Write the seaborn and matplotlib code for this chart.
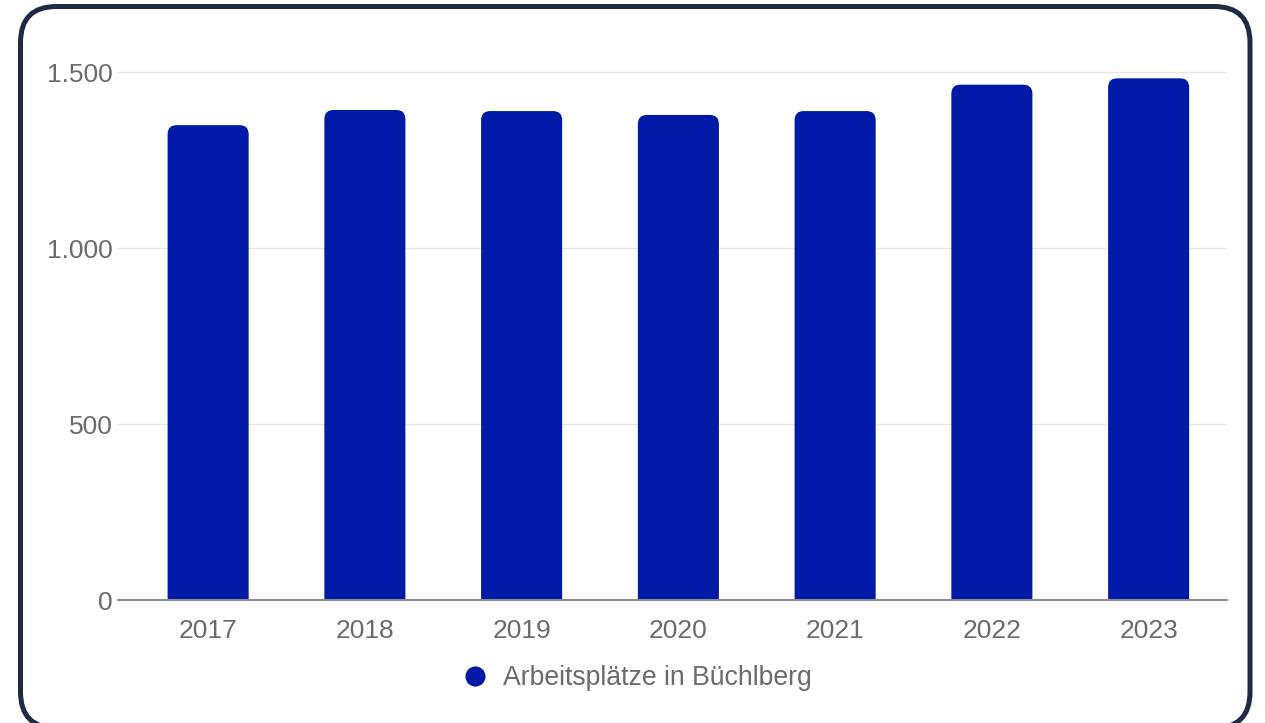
import matplotlib
matplotlib.use("Agg")
import matplotlib.pyplot as plt
from matplotlib.patches import FancyBboxPatch
from matplotlib.lines import Line2D
from matplotlib.ticker import FuncFormatter
import seaborn as sns
import pandas as pd

years = ["2017", "2018", "2019", "2020", "2021", "2022", "2023"]
values = [1349, 1392, 1389, 1378, 1389, 1464, 1482]
series_name = "Arbeitsplätze in Büchlberg"
y_ticks = [0, 500, 1000, 1500]

BAR = "#001AA8"
TXT = "#6b6b6b"

sns.set_theme(style="white")
plt.rcParams["font.family"] = ["Liberation Sans", "DejaVu Sans"]

W, H = 1265, 723
fig = plt.figure(figsize=(W / 100, H / 100), dpi=100)
ax = fig.add_axes([118 / W, 1 - 600 / H, (1227 - 118) / W, (600 - 50) / H])

df = pd.DataFrame({"Jahr": years, "Wert": values})
sns.barplot(data=df, x="Jahr", y="Wert", color=BAR, width=0.517, ax=ax,
            saturation=1, zorder=2)

# rounded tops: replace rectangles with rounded boxes
px_x = 156.7  # px per category
ylim_top = (600 - 50) / 0.352
ax.set_xlim(-0.575, 6.5)
ax.set_ylim(0, ylim_top)
ax_h_px = 550
px_y = ax_h_px / ylim_top
r_px = 9
for p in list(ax.patches):
    x0, w, h = p.get_x(), p.get_width(), p.get_height()
    p.remove()
    rs = r_px / px_x
    fb = FancyBboxPatch((x0, -r_px / px_y), w, h + r_px / px_y,
                        boxstyle=f"round,pad=0,rounding_size={rs}",
                        mutation_aspect=px_x / px_y,
                        facecolor=BAR, edgecolor="none", zorder=2)
    ax.add_patch(fb)

ax.set_yticks(y_ticks)
ax.yaxis.set_major_formatter(FuncFormatter(lambda v, _: f"{v:,.0f}".replace(",", ".")))
ax.grid(axis="y", color="#e6e6e6", linewidth=1, zorder=0)
ax.grid(axis="x", visible=False)
ax.axhline(0, color="#8c8c8c", linewidth=1.5, zorder=3, clip_on=False)
for s in ax.spines.values():
    s.set_visible(False)
ax.tick_params(axis="y", length=0, pad=4, labelsize=19, labelcolor=TXT)
ax.tick_params(axis="x", length=0, pad=14, labelsize=19, labelcolor=TXT)
ax.set_xlabel("")
ax.set_ylabel("")
ax.set_facecolor("none")

handle = Line2D([], [], linestyle="none", marker="o", markersize=13.5,
                markerfacecolor=BAR, markeredgecolor=BAR)
fig.legend([handle], [series_name], loc="center", bbox_to_anchor=(0.5025, 1 - 678 / H),
           frameon=False, fontsize=19.2, labelcolor=TXT, handletextpad=0.45,
           borderaxespad=0, handlelength=1.2)

# outer rounded frame
fx0, fx1, fy0, fy1 = 20.5 / W, 1250 / W, 1 - 728 / H, 1 - 6.5 / H
rad = 36 / W
frame = FancyBboxPatch((fx0, fy0), fx1 - fx0, fy1 - fy0,
                       boxstyle=f"round,pad=0,rounding_size={rad}",
                       mutation_aspect=W / H, transform=fig.transFigure,
                       facecolor="none", edgecolor="#1f2a44", linewidth=3.6,
                       zorder=10, clip_on=False)
fig.patches.append(frame)

fig.savefig("out.png", dpi=100)
